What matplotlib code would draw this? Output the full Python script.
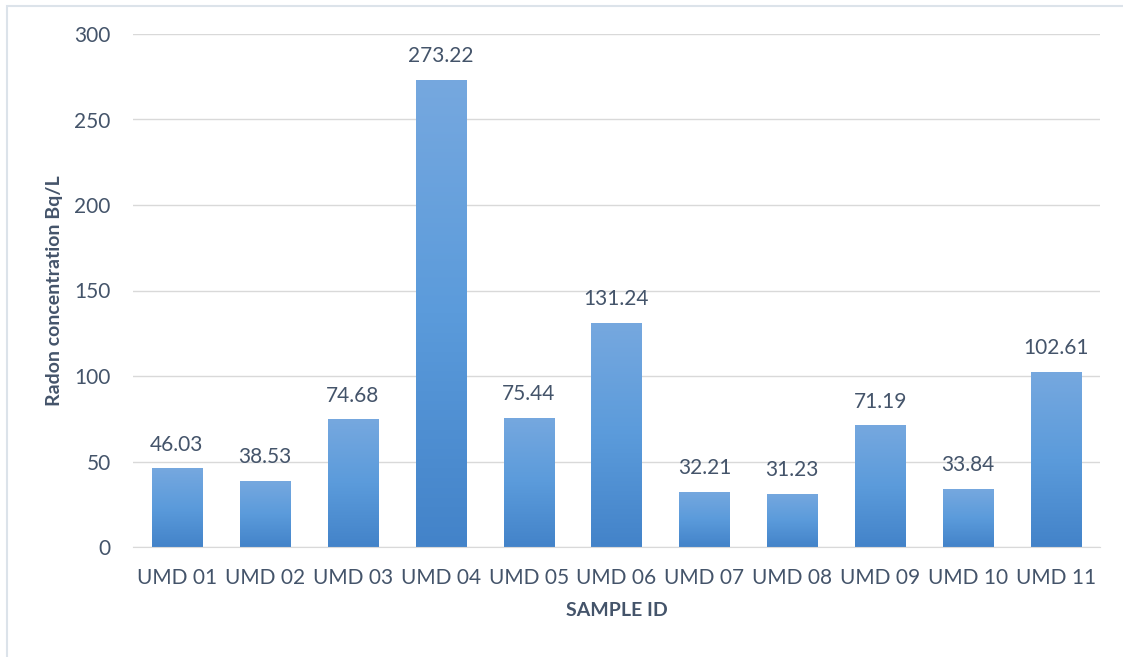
import numpy as np
import matplotlib
matplotlib.use('Agg')
from matplotlib import pyplot as plt
from matplotlib.colors import LinearSegmentedColormap
from matplotlib.patches import Rectangle

samples = ['UMD 01', 'UMD 02', 'UMD 03', 'UMD 04', 'UMD 05', 'UMD 06',
           'UMD 07', 'UMD 08', 'UMD 09', 'UMD 10', 'UMD 11']
radon = [46.03, 38.53, 74.68, 273.22, 75.44, 131.24, 32.21, 31.23, 71.19, 33.84, 102.61]

text_col = '#44546A'
plt.rcParams['font.family'] = ['Lato', 'DejaVu Sans']

fig = plt.figure(figsize=(11.23, 6.57), dpi=100)
ax = fig.add_axes([133/1123, 1 - 547/657, (1100 - 133)/1123, (547 - 34)/657])

x = np.arange(len(samples))
bars = ax.bar(x, radon, width=0.57, color='none', zorder=2)

grad = LinearSegmentedColormap.from_list('g', ['#4383C9', '#5B9BDB', '#76A8DF'])
img = np.linspace(0, 1, 256).reshape(-1, 1)
for b in bars:
    x0, w, h = b.get_x(), b.get_width(), b.get_height()
    im = ax.imshow(img, cmap=grad, aspect='auto', origin='lower',
                   extent=[x0, x0 + w, 0, h], zorder=2)
    im.set_clip_path(b)
    ax.text(x0 + w/2, h + 8, f'{h:.2f}', ha='center', va='bottom',
            fontsize=15, color=text_col)

ax.set_xlim(-0.5, len(samples) - 0.5)
ax.set_ylim(0, 300)
ax.set_yticks(range(0, 301, 50))
ax.set_xticks(x)
ax.set_xticklabels(samples)
ax.grid(axis='y', color='#D9D9D9', linewidth=1, zorder=0)
for s in ['top', 'right', 'left']:
    ax.spines[s].set_visible(False)
ax.spines['bottom'].set_color('#D9D9D9')
ax.tick_params(length=0, labelsize=15, colors=text_col, pad=15)
ax.tick_params(axis='y', pad=16)

ax.set_ylabel('Radon concentration Bq/L', fontsize=14, fontweight='bold',
              color=text_col, labelpad=8)
ax.set_xlabel('SAMPLE ID', fontsize=14, fontweight='bold', color=text_col, labelpad=10)

fig.patches.append(Rectangle((6.5/1123, -0.05), 1.2, 1 - 5.5/657 + 0.05, transform=fig.transFigure,
                             fill=False, edgecolor='#DCE3EA', linewidth=1.5))

fig.savefig('out.png', dpi=100)
